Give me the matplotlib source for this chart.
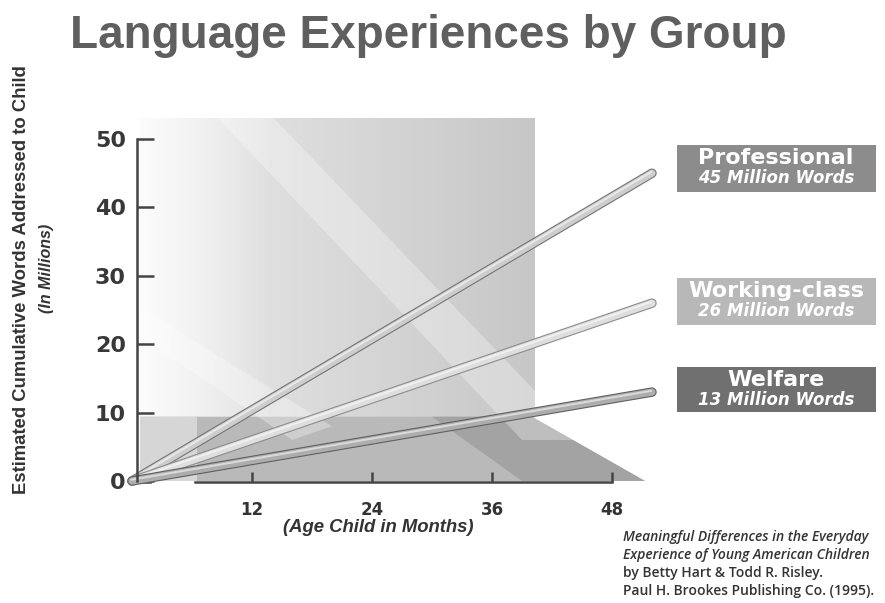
import numpy as np
import matplotlib
matplotlib.use("Agg")
import matplotlib.pyplot as plt
import matplotlib.patheffects as pe
from matplotlib.patches import Rectangle, Polygon

# ---- data ----
groups = ["Professional", "Working-class", "Welfare"]
ages = [0, 52]                      # months (lines drawn to the end of the 4th year)
prof_words = [0, 45]                # cumulative words, millions
work_words = [0, 26]
welf_words = [0, 13]
box_totals = ["45 Million Words", "26 Million Words", "13 Million Words"]
x_ticks = [12, 24, 36, 48]
y_ticks = [0, 10, 20, 30, 40, 50]

W, H = 885, 603
fig = plt.figure(figsize=(W / 100, H / 100), dpi=100)
fig.patch.set_facecolor("white")

# axes placed so that data 0 -> px x 132, 10 px per month; y 0 -> px 481, 6.84 px per million
ax_l, ax_r, ax_t, ax_b = 100, 670, 100, 495
ax = fig.add_axes([ax_l / W, 1 - ax_b / H, (ax_r - ax_l) / W, (ax_b - ax_t) / H])
ax.set_xlim((ax_l - 132) / 10, (ax_r - 132) / 10)
ax.set_ylim((481 - ax_b) / 6.84, (481 - ax_t) / 6.84)
ax.patch.set_alpha(0)

# ---- background panel (gradient) ----
grad = np.linspace(0, 1, 256)
rgba = np.zeros((2, 256, 4))
shade = 0.92 - 0.14 * grad
rgba[..., 0] = shade
rgba[..., 1] = shade
rgba[..., 2] = shade
rgba[..., 3] = np.clip(grad * 3, 0, 1) * 0.85 + 0.15
ax.imshow(rgba, extent=(0.8, 40.3, 9.4, 53.1), aspect="auto", zorder=0,
          interpolation="bilinear")
# lower darker region
ax.add_patch(Polygon([(0.8, 0), (0.8, 9.4), (40.0, 9.4), (51.3, 0)], closed=True,
                     facecolor="#b9b9b9", edgecolor="none", zorder=0.5))
ax.add_patch(Polygon([(0.8, 0), (0.8, 9.4), (6.5, 9.4), (6.5, 0)], closed=True,
                     facecolor="#d6d6d6", edgecolor="none", zorder=0.55))
ax.add_patch(Polygon([(30, 9.4), (40.0, 9.4), (51.3, 0), (39, 0)], closed=True,
                     facecolor="#a3a3a3", edgecolor="none", zorder=0.6))
# light diagonal streaks
ax.add_patch(Polygon([(1.5, 64), (7.0, 64), (45, 6), (39, 6)], closed=True,
                     facecolor="white", alpha=0.3, edgecolor="none", zorder=0.7))
ax.add_patch(Polygon([(-3, 25), (-1, 27), (20, 8), (16, 6)], closed=True,
                     facecolor="white", alpha=0.3, edgecolor="none", zorder=0.7))

# ---- tubes ----
styles = [
    (prof_words, "#cdcdcd", "#747474"),
    (work_words, "#dedede", "#8c8c8c"),
    (welf_words, "#adadad", "#606060"),
]
for vals, body, edge in styles:
    ax.plot(ages, vals, color=body, lw=5.2, solid_capstyle="round", zorder=3,
            path_effects=[pe.Stroke(linewidth=6.8, foreground=edge),
                          pe.Normal(),
                          pe.Stroke(linewidth=1.5, foreground="white", alpha=0.55,
                                    offset=(-0.6, 0.9))])

# ---- axes styling ----
for s in ["top", "right"]:
    ax.spines[s].set_visible(False)
ax.spines["left"].set_position(("data", 0.5))
ax.spines["left"].set_bounds(0, 50)
ax.spines["bottom"].set_position(("data", -0.1))
ax.spines["bottom"].set_bounds(6.3, 48)
for s in ["left", "bottom"]:
    ax.spines[s].set_color("#444444")
    ax.spines[s].set_linewidth(1.8)
    ax.spines[s].set_zorder(4)
ax.plot([0.3, 1.8], [-0.1, -0.1], color="#444444", lw=1.8, zorder=2)

ax.set_yticks(y_ticks)
ax.set_yticklabels([str(v) for v in y_ticks], fontsize=16, fontweight="bold",
                   color="#383838", family="DejaVu Sans")
ax.tick_params(axis="y", direction="in", length=12, width=1.8, color="#444444", pad=8)
ax.set_xticks(x_ticks)
ax.set_xticklabels([str(v) for v in x_ticks], fontsize=12, fontweight="bold",
                   color="#333333", family="DejaVu Sans")
ax.tick_params(axis="x", direction="in", length=7, width=1.8, color="#444444", pad=14)

# ---- texts ----
fig.text(428 / W, 1 - 36 / H, "Language Experiences by Group", ha="center", va="center",
         fontsize=33, fontweight="bold", color="#5f5f5f", family="Liberation Sans")
fig.text(378 / W, 1 - 528 / H, "(Age Child in Months)", ha="center", va="center",
         fontsize=13.3, fontweight="bold", style="italic", color="#333333",
         family="Liberation Sans")
fig.text(22 / W, 1 - 280 / H, "Estimated Cumulative Words Addressed to Child",
         rotation=90, ha="center", va="center", fontsize=13.3, fontweight="bold",
         color="#333333", family="Liberation Sans")
fig.text(46 / W, 1 - 268 / H, "(In Millions)", rotation=90, ha="center", va="center",
         fontsize=11.5, fontweight="bold", style="italic", color="#333333",
         family="Liberation Sans")

# ---- label boxes ----
boxes = [(145, 192, "#8c8c8c"), (278, 325, "#b8b8b8"), (367, 412, "#707070")]
for (top, bot, col), name, tot in zip(boxes, groups, box_totals):
    fig.add_artist(Rectangle((677 / W, 1 - bot / H), 199 / W, (bot - top) / H,
                             transform=fig.transFigure, facecolor=col, edgecolor="none"))
    cx = 776 / W
    fig.text(cx, 1 - (top + 13) / H, name, ha="center", va="center", fontsize=16,
             fontweight="bold", color="white", family="DejaVu Sans")
    fig.text(cx, 1 - (top + 33) / H, tot, ha="center", va="center", fontsize=12,
             fontweight="bold", style="italic", color="white", family="DejaVu Sans")

# ---- citation ----
cite = [("Meaningful Differences in the Everyday", "italic"),
        ("Experience of Young American Children", "italic"),
        ("by Betty Hart & Todd R. Risley.", "normal"),
        ("Paul H. Brookes Publishing Co. (1995).", "normal")]
for i, (line, st) in enumerate(cite):
    fig.text(623 / W, 1 - (537 + 18 * i) / H, line, ha="left", va="center",
             fontsize=10, style=st, fontweight="semibold", color="#333333",
             family="Open Sans")

fig.savefig("out.png", dpi=100, facecolor="white")
